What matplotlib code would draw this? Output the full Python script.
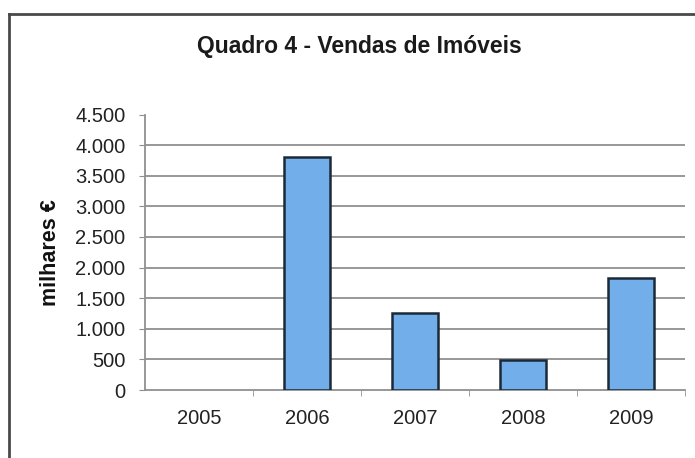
import matplotlib
matplotlib.use("Agg")
import matplotlib.pyplot as plt
from matplotlib.lines import Line2D
from matplotlib.ticker import FuncFormatter

# Property sales per year (thousands of euros)
years = ["2005", "2006", "2007", "2008", "2009"]
sales = [0, 3810, 1260, 490, 1830]
y_ticks = [0, 500, 1000, 1500, 2000, 2500, 3000, 3500, 4000, 4500]

plt.rcParams["font.family"] = ["Liberation Sans", "DejaVu Sans"]

W, H = 695, 458
fig = plt.figure(figsize=(W / 100, H / 100), dpi=100)
fig.patch.set_facecolor("white")

ax = fig.add_axes([145 / W, 1 - 390 / H, 540 / W, (390 - 114.5) / H])

x = list(range(len(years)))
# empty years get no outline
edges = ["#1c2a38" if v > 0 else "none" for v in sales]
ax.bar(x, sales, width=0.43, color="#72AEEA", edgecolor=edges,
       linewidth=1.8, zorder=3)

ax.set_xlim(-0.5, len(years) - 0.5)
ax.set_ylim(0, 4500)
ax.set_yticks(y_ticks)
ax.yaxis.set_major_formatter(
    FuncFormatter(lambda v, p: f"{int(v):,}".replace(",", ".")))

# horizontal gridlines (not at 0 or top)
for v in y_ticks[1:-1]:
    ax.axhline(v, color="#909090", linewidth=1.3, zorder=1)

ax.set_xticks(x)
ax.set_xticklabels(years)
ax.set_xticks([i + 0.5 for i in x], minor=True)
ax.tick_params(axis="x", which="major", length=0, pad=14,
               labelsize=14.5, labelcolor="#222222")
ax.tick_params(axis="x", which="minor", length=4, color="#909090",
               direction="out")
ax.tick_params(axis="y", length=4, color="#909090", pad=10,
               labelsize=14.5, labelcolor="#222222")

for s in ["top", "right"]:
    ax.spines[s].set_visible(False)
for s in ["left", "bottom"]:
    ax.spines[s].set_color("#909090")
    ax.spines[s].set_linewidth(1.3)

ax.set_ylabel("milhares €", fontsize=15.5, fontweight="bold",
              color="#111111", labelpad=10)

fig.text(359 / W, 1 - 46 / H, "Quadro 4 - Vendas de Imóveis",
         ha="center", va="center", fontsize=16.5, fontweight="bold",
         color="#1a1a1a")

# outer chart-area border
fig.add_artist(Line2D([9 / W, 9 / W], [0, 1 - 14 / H],
                      transform=fig.transFigure, color="#4a4a4a", linewidth=2))
fig.add_artist(Line2D([9 / W, 1], [1 - 14 / H, 1 - 14 / H],
                      transform=fig.transFigure, color="#4a4a4a", linewidth=2))

fig.savefig("out.png", dpi=100)
